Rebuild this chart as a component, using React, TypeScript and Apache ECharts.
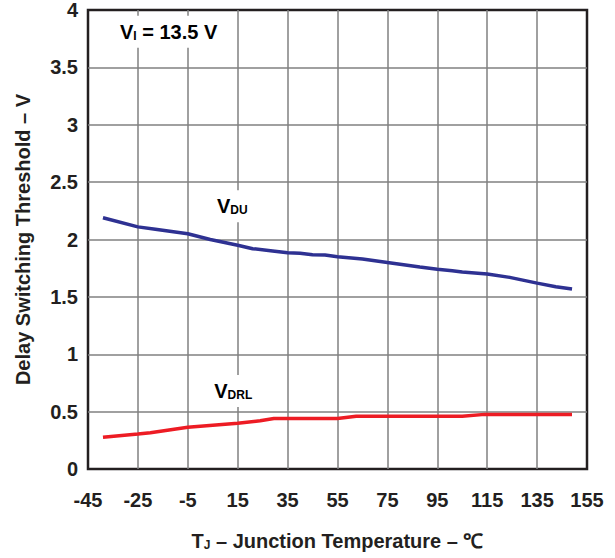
import React, { useEffect, useRef } from "react";
import * as echarts from "echarts";

// Axis range (degrees C, volts)
const xMin = -45;
const xMax = 155;
const xStep = 20;
const yMin = 0;
const yMax = 4;
const yStep = 0.5;

// V_DU curve
const vduTemp = [-39, -25, -18, -5, 4, 15, 21, 29, 35, 40, 45, 50, 55, 65, 75, 88, 95, 101, 105, 115, 124, 135, 142.5, 149];
const vduValue = [2.19, 2.11, 2.09, 2.05, 2.0, 1.95, 1.92, 1.9, 1.885, 1.88, 1.867, 1.864, 1.85, 1.83, 1.8, 1.76, 1.74, 1.727, 1.716, 1.7, 1.67, 1.62, 1.588, 1.568];

// V_DRL curve
const vdrlTemp = [-39, -25, -20, -5, 15, 24, 29.5, 55, 62.5, 105, 114, 149];
const vdrlValue = [0.276, 0.305, 0.316, 0.363, 0.398, 0.42, 0.44, 0.44, 0.46, 0.46, 0.476, 0.476];

// Annotations (data coordinates)
const annoText = ["{v|V}{s|I}{v| = 13.5 V}", "{v|V}{s|DU}", "{v|V}{s|DRL}"];
const annoTemp = [-35.4, 12.8, 13.2];
const annoValue = [3.81, 2.29, 0.68];
const annoAlign = ["left", "center", "center"];

const FONT = "'Liberation Sans', Arial, Helvetica, sans-serif";
const BLUE = "#2e3192";
const RED = "#ed1c24";
const INK = "#231f20";

const rich = {
  v: { fontFamily: FONT, fontWeight: "bold", fontSize: 20, color: INK },
  s: { fontFamily: FONT, fontWeight: "bold", fontSize: 12, color: INK, verticalAlign: "bottom" as const },
};

export default function App() {
  const ref = useRef<HTMLDivElement>(null);

  useEffect(() => {
    if (!ref.current) return;
    const chart = echarts.init(ref.current, undefined, { renderer: "svg" });
    const option: any = {
      animation: false,
      backgroundColor: "#fff",
      grid: {
        left: 88,
        right: 28,
        top: 10,
        bottom: 89,
        show: true,
        borderColor: INK,
        borderWidth: 2.5,
        backgroundColor: "transparent",
      },
      xAxis: {
        type: "value",
        min: xMin,
        max: xMax,
        interval: xStep,
        name: "{v|T}{s|J}{v| – Junction Temperature – ℃}",
        nameLocation: "middle",
        nameGap: 62,
        nameTextStyle: { rich },
        axisLine: { show: false },
        axisTick: { show: false },
        axisLabel: {
          margin: 21,
          fontFamily: FONT,
          fontWeight: "bold",
          fontSize: 20,
          color: INK,
        },
        splitLine: {
          show: true,
          showMinLine: false,
          showMaxLine: false,
          lineStyle: { color: "#808080", width: 1.5 },
        },
      },
      yAxis: {
        type: "value",
        min: yMin,
        max: yMax,
        interval: yStep,
        name: "Delay Switching Threshold – V",
        nameLocation: "middle",
        nameGap: 55,
        nameTextStyle: {
          fontFamily: FONT,
          fontWeight: "bold",
          fontSize: 20,
          color: INK,
        },
        axisLine: { show: false },
        axisTick: { show: false },
        axisLabel: {
          margin: 10,
          fontFamily: FONT,
          fontWeight: "bold",
          fontSize: 20,
          color: INK,
        },
        splitLine: {
          show: true,
          showMinLine: false,
          showMaxLine: false,
          lineStyle: { color: "#808080", width: 1.5 },
        },
      },
      series: [
        {
          name: "VDU",
          type: "line",
          data: vduTemp.map((t, i) => [t, vduValue[i]]),
          showSymbol: false,
          lineStyle: { color: BLUE, width: 3.5 },
          z: 5,
        },
        {
          name: "VDRL",
          type: "line",
          data: vdrlTemp.map((t, i) => [t, vdrlValue[i]]),
          showSymbol: false,
          lineStyle: { color: RED, width: 3.5 },
          z: 5,
        },
      ],
    };
    chart.setOption(option);

    const elements = annoText.map((text, i) => {
      const p = chart.convertToPixel({ gridIndex: 0 }, [annoTemp[i], annoValue[i]]) as number[];
      return {
        type: "text",
        x: p[0],
        y: p[1],
        z: 100,
        style: {
          text,
          rich,
          align: annoAlign[i],
          verticalAlign: "middle",
          backgroundColor: "#fff",
          padding: [6, 8, 6, 8],
        },
      };
    });
    chart.setOption({ graphic: { elements } });

    return () => {
      chart.dispose();
    };
  }, []);

  return (
    <div
      ref={ref}
      style={{ position: "fixed", left: 0, top: 0, width: 615, height: 558 }}
    />
  );
}
